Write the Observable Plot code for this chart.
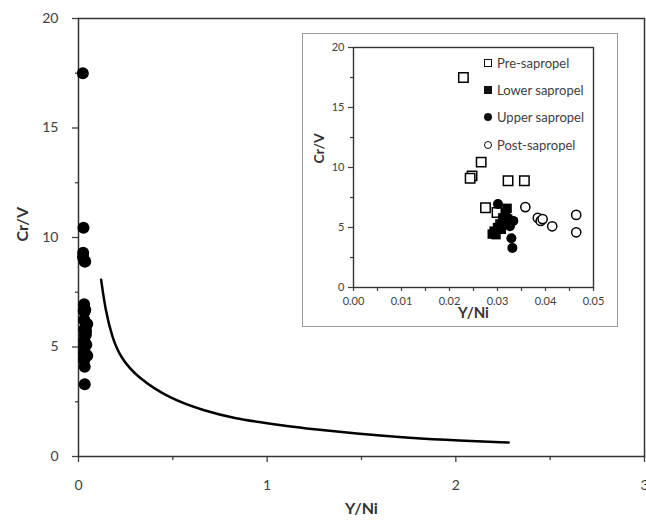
<!DOCTYPE html>
<html>
<head>
<meta charset="utf-8">
<script src="https://cdn.jsdelivr.net/npm/d3@7"></script>
<script src="https://cdn.jsdelivr.net/npm/@observablehq/plot@0.6"></script>
<style>
  html, body { margin: 0; padding: 0; background: white; }
  #wrap { position: relative; width: 646px; height: 521px; overflow: hidden; font-family: Lato, "Open Sans", sans-serif; }
  #inset { position: absolute; left: 302px; top: 33px; width: 316px; height: 294px; outline: 1.5px solid #9a9a9a; outline-offset: -1px; background: white; }
  #legend { position: absolute; left: 483px; top: 49px; font-size: 13px; color: #404040; }
  .row { display: flex; align-items: center; height: 27.4px; }
  .mk { width: 10px; height: 10px; display: flex; align-items: center; justify-content: center; margin-right: 4px; }
  .mk span { display: block; box-sizing: border-box; }
</style>
</head>
<body>
<div id="wrap"><div id="main"></div><div id="inset"></div><div id="legend"></div></div>
<script>
// ---- data ----
const preX   = [0.0229, 0.0266, 0.0247, 0.0243, 0.0322, 0.0356, 0.0275, 0.0299];
const preY   = [17.5, 10.45, 9.3, 9.1, 8.9, 8.9, 6.65, 6.25];
const lowerX = [0.0320, 0.0316, 0.0311, 0.0305, 0.0300, 0.0293, 0.0289, 0.0297, 0.0308];
const lowerY = [6.6, 6.2, 5.8, 5.3, 5.0, 4.7, 4.45, 4.4, 4.85];
const upperX = [0.0301, 0.0333, 0.0322, 0.0317, 0.0326, 0.0329, 0.0331];
const upperY = [6.95, 5.55, 5.8, 5.25, 5.1, 4.1, 3.3];
const postX  = [0.0358, 0.0384, 0.0390, 0.0394, 0.0414, 0.0464, 0.0464];
const postY  = [6.7, 5.8, 5.55, 5.7, 5.1, 6.05, 4.6];
const curveX = [0.12, 0.143, 0.178, 0.222, 0.31, 0.486, 0.662, 0.838, 0.961, 1.11, 1.226, 1.49, 1.754, 2.018, 2.28];
const curveY = [8.07, 6.67, 5.45, 4.53, 3.62, 2.63, 2.10, 1.72, 1.57, 1.38, 1.26, 1.03, 0.85, 0.73, 0.64];
const legendLabels = ["Pre-sapropel", "Lower sapropel", "Upper sapropel", "Post-sapropel"];
const mainYTicks = [0, 5, 10, 15, 20];
const mainYMinor = [2.5, 7.5, 12.5, 17.5];
const mainXTicks = [0, 1, 2, 3];
const mainXMinor = [0.5, 1.5, 2.5];
const insetYTicks = [0, 5, 10, 15, 20];
const insetYMinor = [2.5, 7.5, 12.5, 17.5];
const insetXTicks = [0, 0.01, 0.02, 0.03, 0.04, 0.05];
const insetXMinor = [0.005, 0.015, 0.025, 0.035, 0.045];
const xLabel = "Y/Ni";
const yLabel = "Cr/V";

const rows = (xs, ys, s) => xs.map((x, i) => ({x, y: ys[i], s}));
const pre = rows(preX, preY, legendLabels[0]);
const lower = rows(lowerX, lowerY, legendLabels[1]);
const upper = rows(upperX, upperY, legendLabels[2]);
const post = rows(postX, postY, legendLabels[3]);
const all = [...pre, ...lower, ...upper, ...post];
const curve = curveX.map((x, i) => ({x, y: curveY[i]}));

const ff = "Lato, 'Open Sans', sans-serif";

// ---- main chart ----
const main = Plot.plot({
  width: 646, height: 521,
  marginLeft: 78, marginRight: 2, marginTop: 18, marginBottom: 65,
  style: {fontFamily: ff, fontSize: "14px", color: "#404040", background: "white"},
  x: {domain: [0, 3]},
  y: {domain: [0, 20]},
  marks: [
    Plot.axisY({ticks: mainYTicks, tickSize: 6, tickPadding: 14, tickFormat: d3.format("d"), label: null, strokeWidth: 1.3}),
    Plot.axisY({ticks: mainYMinor, tickSize: 3, tickFormat: () => "", label: null, strokeWidth: 1.3}),
    Plot.axisX({ticks: mainXTicks, tickSize: 6, tickPadding: 18, tickFormat: d3.format("d"), label: null, strokeWidth: 1.3}),
    Plot.axisX({ticks: mainXMinor, tickSize: 4, tickFormat: () => "", label: null, strokeWidth: 1.3}),
    Plot.frame({stroke: "#333", strokeWidth: 1.5}),
    Plot.line(curve, {x: "x", y: "y", curve: "basis", stroke: "black", strokeWidth: 2.5}),
    Plot.dot(all, {x: "x", y: "y", r: 6, fill: "black"}),
    Plot.text([yLabel], {text: d => d, frameAnchor: "left", dx: -56, dy: 4, rotate: -90, fontWeight: "bold", fontSize: 16, fill: "#333"}),
    Plot.text([xLabel], {text: d => d, frameAnchor: "bottom", dy: 57, fontWeight: "bold", fontSize: 16, fill: "#333"})
  ]
});
document.getElementById("main").append(main);

// ---- inset chart ----
const inset = Plot.plot({
  width: 316, height: 294,
  marginLeft: 51, marginRight: 25, marginTop: 14, marginBottom: 40,
  style: {fontFamily: ff, fontSize: "11px", color: "#404040", background: "transparent"},
  x: {domain: [0, 0.05]},
  y: {domain: [0, 20]},
  marks: [
    Plot.axisY({ticks: insetYTicks, tickSize: 5, tickPadding: 4, tickFormat: d3.format("d"), label: null, strokeWidth: 1.2}),
    Plot.axisY({ticks: insetYMinor, tickSize: 3, tickFormat: () => "", label: null, strokeWidth: 1.2}),
    Plot.axisX({ticks: insetXTicks, tickSize: 4, tickPadding: 6, tickFormat: d3.format(".2f"), label: null, strokeWidth: 1.2}),
    Plot.axisX({ticks: insetXMinor, tickSize: 4, tickFormat: () => "", label: null, strokeWidth: 1.2}),
    Plot.frame({stroke: "#333", strokeWidth: 1.4}),
    Plot.dot(pre, {x: "x", y: "y", symbol: "square", r: 5.3, fill: "white", stroke: "black", strokeWidth: 1.5}),
    Plot.dot(lower, {x: "x", y: "y", symbol: "square", r: 5.3, fill: "black"}),
    Plot.dot(upper, {x: "x", y: "y", symbol: "circle", r: 5, fill: "black"}),
    Plot.dot(post, {x: "x", y: "y", symbol: "circle", r: 4.6, fill: "white", stroke: "black", strokeWidth: 1.5}),
    Plot.text([yLabel], {text: d => d, frameAnchor: "left", dx: -34, dy: -4, rotate: -90, fontWeight: "bold", fontSize: 14, fill: "#333"}),
    Plot.text([xLabel], {text: d => d, frameAnchor: "bottom", dy: 30, fontWeight: "bold", fontSize: 15, fill: "#333"})
  ]
});
document.getElementById("inset").append(inset);

// ---- legend ----
const markerStyles = [
  "width:8px;height:8px;border:1.4px solid #111;background:white;",
  "width:8px;height:8px;background:#111;",
  "width:8px;height:8px;background:#111;border-radius:50%;",
  "width:8px;height:8px;border:1.4px solid #111;background:white;border-radius:50%;"
];
const legend = d3.select("#legend");
legendLabels.forEach((lab, i) => {
  const r = legend.append("div").attr("class", "row");
  r.append("div").attr("class", "mk").append("span").attr("style", markerStyles[i]);
  r.append("span").text(lab);
});
</script>
</body>
</html>
